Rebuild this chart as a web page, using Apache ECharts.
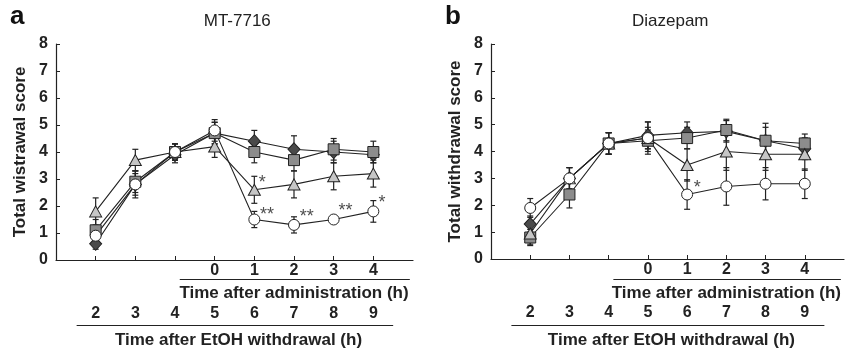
<!DOCTYPE html>
<html>
<head>
<meta charset="utf-8">
<script src="https://cdn.jsdelivr.net/npm/echarts@6/dist/echarts.min.js"></script>
<style>
  html, body { margin: 0; padding: 0; background: #fff; }
  #chart { width: 847px; height: 352px; }
</style>
</head>
<body>
<div id="chart"></div>
<script>
// hours after EtOH withdrawal
const hours = [2, 3, 4, 5, 6, 7, 8, 9]

// panel a: MT-7716
const aDiamond = [0.6, 2.8, 3.9, 4.7, 4.4, 4.1, 4.0, 3.9]
const aSquare = [1.1, 2.9, 4.0, 4.7, 4.0, 3.7, 4.1, 4.0]
const aTriangle = [1.8, 3.7, 4.0, 4.2, 2.6, 2.8, 3.1, 3.2]
const aCircle = [0.9, 2.8, 4.0, 4.8, 1.5, 1.3, 1.5, 1.8]
const aDiamondErr = [0.2, 0.4, 0.3, 0.4, 0.4, 0.5, 0.4, 0.3]
const aSquareErr = [0.4, 0.4, 0.3, 0.4, 0.4, 0.4, 0.4, 0.4]
const aTriangleErr = [0.5, 0.4, 0.3, 0.4, 0.5, 0.5, 0.5, 0.5]
const aCircleErr = [0.3, 0.5, 0.3, 0.4, 0.3, 0.3, 0.1, 0.4]
const aStars = [[6.2, 2.85, '*'], [6.32, 1.68, '**'], [7.32, 1.6, '**'], [8.3, 1.8, '**'], [9.22, 2.1, '*']]

// panel b: Diazepam
const bDiamond = [1.3, 3.0, 4.3, 4.6, 4.7, 4.75, 4.4, 4.1]
const bSquare = [0.8, 2.4, 4.3, 4.4, 4.5, 4.8, 4.4, 4.3]
const bTriangle = [0.95, 3.0, 4.3, 4.5, 3.5, 4.0, 3.9, 3.9]
const bCircle = [1.9, 3.0, 4.3, 4.5, 2.4, 2.7, 2.8, 2.8]
const bDiamondErr = [0.3, 0.4, 0.4, 0.5, 0.4, 0.4, 0.5, 0.4]
const bSquareErr = [0.3, 0.5, 0.4, 0.4, 0.4, 0.4, 0.65, 0.35]
const bTriangleErr = [0.4, 0.4, 0.4, 0.4, 0.6, 0.7, 0.6, 0.6]
const bCircleErr = [0.35, 0.4, 0.4, 0.6, 0.55, 0.7, 0.6, 0.55]
const bStars = [[6.26, 2.65, '*']]

const font = "'Liberation Sans', Arial, sans-serif"
const ink = '#222'

const chart = echarts.init(document.getElementById('chart'))

function pairs(vals) {
  return hours.map((h, i) => [h, vals[i]])
}

function errData(vals, err) {
  return hours.map((h, i) => [h, vals[i] - err[i], vals[i] + err[i]])
}

function errSeries(grid, vals, err) {
  return {
    type: 'custom',
    xAxisIndex: grid * 2,
    yAxisIndex: grid,
    z: 1,
    silent: true,
    data: errData(vals, err),
    renderItem: (params, api) => {
      const x = api.value(0)
      const lo = api.coord([x, api.value(1)])
      const hi = api.coord([x, api.value(2)])
      const st = { stroke: ink, lineWidth: 1.2 }
      return {
        type: 'group',
        children: [
          { type: 'line', shape: { x1: lo[0], y1: lo[1], x2: hi[0], y2: hi[1] }, style: st },
          { type: 'line', shape: { x1: lo[0] - 3, y1: lo[1], x2: lo[0] + 3, y2: lo[1] }, style: st },
          { type: 'line', shape: { x1: hi[0] - 3, y1: hi[1], x2: hi[0] + 3, y2: hi[1] }, style: st },
        ],
      }
    },
  }
}

function lineSeries(grid, vals, symbol, size, fill) {
  return {
    type: 'line',
    xAxisIndex: grid * 2,
    yAxisIndex: grid,
    z: 3,
    data: pairs(vals),
    symbol: symbol,
    symbolSize: size,
    showAllSymbol: true,
    lineStyle: { color: ink, width: 1.1 },
    itemStyle: { color: fill, borderColor: ink, borderWidth: 1 },
    animation: false,
  }
}

function starSeries(grid, stars) {
  return {
    type: 'scatter',
    xAxisIndex: grid * 2,
    yAxisIndex: grid,
    symbolSize: 0,
    data: stars.map(s => ({ value: [s[0], s[1]], label: { formatter: s[2] } })),
    label: {
      show: true,
      position: 'inside',
      color: ink,
      fontFamily: font,
      fontSize: 18,
    },
    z: 4,
  }
}

function panelSeries(grid, d, s, t, c, de, se, te, ce, stars) {
  return [
    errSeries(grid, d, de),
    errSeries(grid, s, se),
    errSeries(grid, t, te),
    errSeries(grid, c, ce),
    lineSeries(grid, d, 'diamond', [12, 13], '#4a4a4a'),
    lineSeries(grid, s, 'rect', 11, '#8c8c8c'),
    lineSeries(grid, t, 'triangle', [12, 11], '#c6c6c6'),
    lineSeries(grid, c, 'circle', 11, '#fff'),
    starSeries(grid, stars),
  ]
}

const grids = [
  { left: 56, top: 44, width: 357, height: 216 },
  { left: 491, top: 44, width: 359, height: 215 },
]

const bold16 = { color: ink, fontFamily: font, fontSize: 16, fontWeight: 'bold' }
const xAxes = []
const yAxes = []
const names = ['Total wistrawal score', 'Total withdrawal score']
grids.forEach((g, i) => {
  xAxes.push({
    type: 'value', gridIndex: i, min: 1, max: 10, interval: 1,
    axisLine: { lineStyle: { color: ink, width: 1.2 } },
    axisTick: { inside: true, length: 4, lineStyle: { color: ink }, customValues: hours },
    axisLabel: {
      ...bold16, margin: 46,
      formatter: v => (v >= 2 && v <= 9 ? String(v) : ''),
    },
    splitLine: { show: false },
  })
  xAxes.push({
    type: 'value', gridIndex: i, min: 1, max: 10, interval: 1, position: 'bottom',
    axisLine: { show: false }, axisTick: { show: false },
    axisLabel: {
      ...bold16, margin: 3,
      formatter: v => (v >= 5 && v <= 9 ? String(v - 5) : ''),
    },
    splitLine: { show: false },
  })
  yAxes.push({
    type: 'value', gridIndex: i, min: 0, max: 8, interval: 1,
    name: names[i], nameLocation: 'middle', nameGap: 27,
    nameTextStyle: { color: ink, fontFamily: font, fontSize: 17, fontWeight: 'bold' },
    axisLine: { show: true, lineStyle: { color: ink, width: 1.2 } },
    axisTick: { show: true, inside: true, length: 4, lineStyle: { color: ink } },
    axisLabel: { ...bold16, margin: 8 },
    splitLine: { show: false },
  })
})

chart.setOption({
  animation: false,
  backgroundColor: '#fff',
  grid: grids,
  xAxis: xAxes,
  yAxis: yAxes,
  series: [
    ...panelSeries(0, aDiamond, aSquare, aTriangle, aCircle, aDiamondErr, aSquareErr, aTriangleErr, aCircleErr, aStars),
    ...panelSeries(1, bDiamond, bSquare, bTriangle, bCircle, bDiamondErr, bSquareErr, bTriangleErr, bCircleErr, bStars),
  ],
})

// headers and the two labelled time rows under each panel
const titles = ['MT-7716', 'Diazepam']
const letters = ['a', 'b']
const graphics = []
grids.forEach((g, i) => {
  const px = x => chart.convertToPixel({ xAxisIndex: i * 2 }, x)
  graphics.push(
    { type: 'text', left: i === 0 ? 10 : 445, top: 4, style: { text: letters[i], font: `bold 26px ${font}`, fill: '#111' } },
    { type: 'text', x: px(5.57), y: 21, style: { text: titles[i], font: `17px ${font}`, fill: ink, textAlign: 'center', textVerticalAlign: 'middle' } },
    { type: 'line', shape: { x1: px(4.12), y1: 279.5, x2: px(9.92), y2: 279.5 }, style: { stroke: ink, lineWidth: 1.2 } },
    { type: 'text', x: px(7.0), y: 293, style: { text: 'Time after administration (h)', font: `bold 17px ${font}`, fill: ink, textAlign: 'center', textVerticalAlign: 'middle' } },
    { type: 'line', shape: { x1: px(1.52), y1: 325.5, x2: px(9.5), y2: 325.5 }, style: { stroke: ink, lineWidth: 1.2 } },
    { type: 'text', x: px(5.6), y: 340, style: { text: 'Time after EtOH withdrawal (h)', font: `bold 17px ${font}`, fill: ink, textAlign: 'center', textVerticalAlign: 'middle' } },
  )
})
chart.setOption({ graphic: graphics })
</script>
</body>
</html>
